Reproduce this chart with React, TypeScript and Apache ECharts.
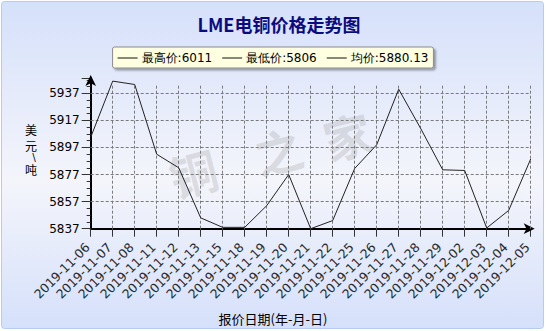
import React, { useEffect, useRef } from 'react';
import * as echarts from 'echarts';

const dates = [
  '2019-11-06', '2019-11-07', '2019-11-08', '2019-11-11', '2019-11-12', '2019-11-13', '2019-11-15',
  '2019-11-18', '2019-11-19', '2019-11-20', '2019-11-21', '2019-11-22', '2019-11-25', '2019-11-26',
  '2019-11-27', '2019-11-28', '2019-11-29', '2019-12-02', '2019-12-03', '2019-12-04', '2019-12-05',
];
const prices = [
  5904.5, 5946, 5943.5, 5892, 5882, 5845, 5838,
  5838, 5854, 5877, 5837, 5843, 5881.5, 5899,
  5940, 5911, 5880.5, 5880, 5837.5, 5850.5, 5888.5,
];
const yTicks = [5837, 5857, 5877, 5897, 5917, 5937];
const Y_MIN = 5837;
const Y_MAX = 5948.3;
const GRID_LINE_TOP = 5944;
const legendItems = ['最高价:6011', '最低价:5806', '均价:5880.13'];
const titleText = 'LME电铜价格走势图';
const xName = '报价日期(年-月-日)';
const yNameParts = ['美', '元', '/', '吨'];
const watermark = ['铜', '之', '家'];

export default function App() {
  const ref = useRef<HTMLDivElement>(null);
  useEffect(() => {
    if (!ref.current) return;
    const chart = echarts.init(ref.current, undefined, { renderer: 'svg' });
    const vLines = dates.slice(1).map((d) => [
      { coord: [d, Y_MIN] },
      { coord: [d, GRID_LINE_TOP] },
    ]);
    const hLines = yTicks.slice(1).map((v) => ({ yAxis: v }));
    const wmPos = [
      [193, 172],
      [278, 150],
      [347, 135],
    ];
    const yNamePos = [
      [31, 129.5, 12, 1],
      [31, 145.5, 12, 1],
      [34, 157, 10, -1],
      [31, 169, 12, 1],
    ];
    const option: any = {
      animation: false,
      backgroundColor: '#ffffff',
      grid: { left: 90.7, right: 15.3, top: 78, bottom: 102.3, containLabel: false },
      legend: {
        data: legendItems.map((n) => ({ name: n, icon: 'rect', itemStyle: { color: '#111' } })),
        left: 'center',
        top: 47,
        itemWidth: 20,
        itemHeight: 1,
        itemGap: 10,
        padding: [5, 5, 4, 5],
        backgroundColor: '#ffffe1',
        borderColor: '#8a8a8a',
        borderWidth: 1,
        borderRadius: 2,
        shadowBlur: 2,
        shadowColor: 'rgba(0,0,0,0.35)',
        shadowOffsetX: 2,
        shadowOffsetY: 2,
        selectedMode: false,
        textStyle: { color: '#000', fontSize: 12, fontFamily: 'DejaVu Sans', padding: [0, 0, 0, -1] },
      },
      xAxis: {
        type: 'category',
        data: dates,
        boundaryGap: false,
        axisLine: {
          show: true,
          lineStyle: { color: '#000', width: 2 },
          symbol: ['none', 'arrow'],
          symbolSize: [8, 11],
          symbolOffset: [0, 4],
        },
        axisTick: { show: true, length: 8, lineStyle: { color: '#333' } },
        axisLabel: {
          rotate: 45,
          interval: 0,
          margin: 19.5,
          verticalAlign: 'bottom',
          lineHeight: 9,
          color: '#2a2a2a',
          fontSize: 12.5,
          fontFamily: 'DejaVu Sans',
        },
        splitLine: { show: false },
      },
      yAxis: {
        type: 'value',
        min: Y_MIN,
        max: Y_MAX,
        interval: 20,
        axisLine: {
          show: true,
          lineStyle: { color: '#000', width: 2 },
          symbol: ['none', 'arrow'],
          symbolSize: [8, 11],
          symbolOffset: [0, 3],
        },
        axisTick: { show: true, length: 9, lineStyle: { color: '#333' } },
        minorTick: { show: true, splitNumber: 4, length: 4, lineStyle: { color: '#333' } },
        axisLabel: {
          showMaxLabel: false,
          margin: 11,
          color: '#000',
          fontSize: 12,
          fontFamily: 'DejaVu Sans',
          formatter: (v: number) => String(v),
        },
        splitLine: { show: false },
      },
      graphic: [
        {
          type: 'rect',
          z: -100,
          shape: { x: 1.5, y: 1.5, width: 542, height: 327, r: 3 },
          style: {
            fill: new echarts.graphic.LinearGradient(0, 0, 0, 1, [
              { offset: 0, color: '#d5e0fa' },
              { offset: 0.55, color: '#f4f5fb' },
              { offset: 1, color: '#d5e0fa' },
            ]),
            stroke: '#b9c9ef',
            lineWidth: 1,
          },
        },
        ...watermark.map((c, i) => ({
          type: 'text',
          z: -50,
          x: wmPos[i][0],
          y: wmPos[i][1],
          rotation: 0.25,
          style: {
            text: c,
            fill: 'rgba(160,160,160,0.3)',
            fontSize: 48,
            fontWeight: 'bold',
            fontFamily: 'Noto Sans CJK SC',
            align: 'center',
            verticalAlign: 'middle',
          },
        })),
        {
          type: 'text',
          x: 279,
          y: 24,
          style: {
            text: titleText,
            fill: '#0b0b80',
            fontSize: 18,
            fontWeight: 'bold',
            fontFamily: 'Noto Sans CJK SC',
            align: 'center',
            verticalAlign: 'middle',
          },
        },
        ...yNameParts.map((c, i) => ({
          type: 'text',
          x: yNamePos[i][0],
          y: yNamePos[i][1],
          scaleX: yNamePos[i][3],
          style: {
            text: c,
            fill: '#000',
            fontSize: yNamePos[i][2],
            fontFamily: c === '/' ? 'DejaVu Sans' : 'Noto Sans CJK SC',
            align: 'center',
            verticalAlign: 'middle',
          },
        })),
        {
          type: 'text',
          x: 273,
          y: 318,
          style: { text: xName, fill: '#000', fontSize: 13, fontFamily: 'Noto Sans CJK SC', align: 'center', verticalAlign: 'middle' },
        },
      ],
      series: [
        {
          name: 'price',
          type: 'line',
          data: prices,
          symbol: 'none',
          z: 5,
          lineStyle: { color: '#222', width: 1 },
          itemStyle: { color: '#222' },
          clip: false,
          silent: true,
          markLine: {
            silent: true,
            symbol: 'none',
            label: { show: false },
            emphasis: { disabled: true },
            lineStyle: { color: '#7a7a7a', type: [3, 2], width: 1 },
            data: [...hLines, ...vLines],
          },
        },
        ...legendItems.map((n) => ({
          name: n,
          type: 'line',
          data: [],
          symbol: 'none',
          lineStyle: { color: '#111', width: 1 },
          itemStyle: { color: '#111' },
        })),
      ],
    };
    chart.setOption(option);
    return () => chart.dispose();
  }, []);
  return <div ref={ref} style={{ position: 'absolute', left: 0, top: 0, width: 546, height: 331 }} />;
}
